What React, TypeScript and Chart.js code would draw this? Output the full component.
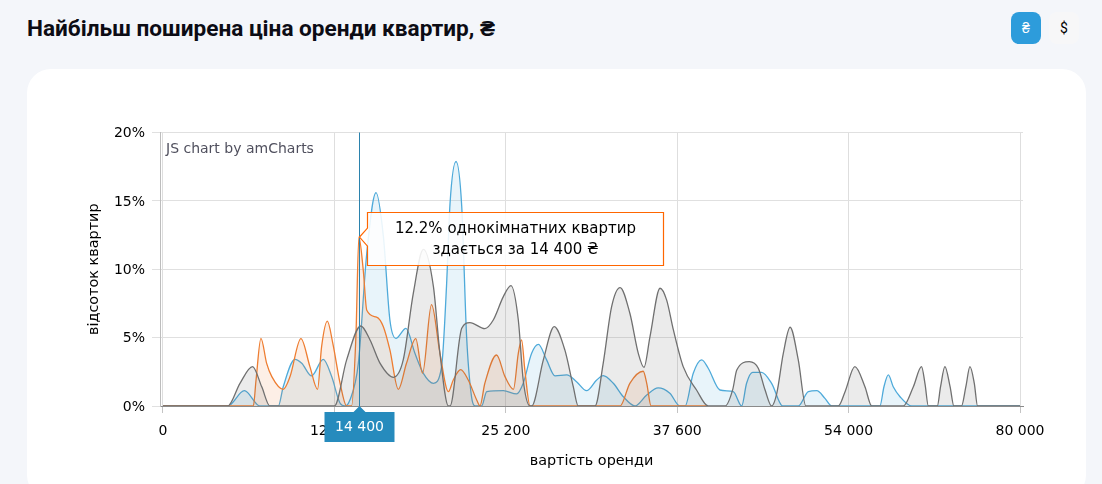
import { useEffect, useRef } from "react";
import { Chart, registerables } from "chart.js";

Chart.register(...registerables);

// x is the rank of the price on the amCharts category axis, y is percent of flats
const tickRanks = [0, 63, 126, 189, 252, 315];
const tickLabels = ["0", "12 600", "25 200", "37 600", "54 000", "80 000"];

const orangeRanks = [0, 33.2, 34.2, 36, 38.1, 40, 44.2, 46.7, 50.7, 54, 56.8, 58.3, 60.4, 62.4, 65.1, 67.5, 69.3, 70.9, 72, 73.6, 74.9, 78.5, 81, 83.4, 86.5, 89.5, 92.9, 95.4, 98.7, 101.8, 104.9, 106.7, 109.4, 112.2, 115.3, 116.5, 118.3, 122.6, 125.7, 128.8, 130.6, 131.8, 133, 134.9, 168, 171.6, 176.5, 177.8, 179.4, 200];
const orangeValues = [0, 0, 1.9, 4.95, 3.12, 2.15, 1.22, 2.15, 4.93, 2.88, 1.22, 4.34, 6.2, 4.6, 1.66, 0, 0, 5.07, 12.35, 9.95, 7, 6.5, 5.8, 4.1, 1.22, 3.12, 4.93, 2.4, 7.41, 3.85, 1.05, 1.9, 2.66, 1.9, 0.44, 0, 1.66, 3.73, 2.15, 1.22, 3.85, 4.83, 2.63, 0, 0, 1.66, 2.54, 1.66, 0, 0];

const blueRanks = [0, 23.8, 29.9, 35.65, 42.4, 44.2, 48.5, 51, 54.6, 58.9, 62, 65.1, 66.9, 68.7, 71.8, 74.9, 78.3, 81, 83.4, 85.6, 89.3, 92.6, 95.7, 99.4, 102.4, 104.2, 105.5, 107.7, 109.8, 111.6, 113.4, 114.7, 117.1, 119, 125.1, 130, 132.4, 135.5, 138, 141, 144.1, 148.4, 152, 155.7, 159.4, 161.8, 165.5, 169.2, 173.5, 177.8, 182, 186.3, 190, 191.9, 194.9, 198, 200.4, 204.7, 209.6, 212.7, 214.5, 216.7, 220, 223.7, 227.8, 233.5, 237.2, 240.3, 243.3, 245.8, 263.5, 265, 266.6, 268.4, 270.9, 275.2, 315];
const blueValues = [0, 0, 1.12, 0, 0, 1.41, 3.41, 3.12, 2.2, 3.41, 2.15, 0.2, 0, 0.44, 3.12, 11.17, 15.6, 12.4, 6.29, 4.95, 5.68, 3.85, 2.39, 1.66, 2.88, 8.73, 14.8, 17.88, 14.6, 5.07, 0.68, 0, 0, 1.05, 1.12, 0.88, 1.66, 3.85, 4.5, 3.37, 2.2, 2.27, 1.78, 1.12, 1.9, 2.22, 1.66, 0.68, 0, 0.8, 1.32, 0.93, 0, 0, 2.39, 3.37, 2.76, 1.17, 1.05, 0, 1.66, 2.46, 2.46, 1.66, 0, 0, 1.05, 1.12, 0.56, 0, 0, 1.41, 2.27, 1.41, 0.68, 0, 0];

const greyRanks = [0, 23.8, 28.3, 32.9, 36.3, 39.3, 63, 67.5, 72.7, 76.1, 79.8, 84.7, 88.3, 92, 95.7, 99.4, 101.8, 104.9, 105.5, 109.8, 112.8, 118.3, 121.4, 125.1, 127.9, 130.6, 132.4, 134.9, 135.5, 139.8, 143.8, 147.7, 150.8, 152.6, 158.8, 161.8, 164.9, 168, 171.6, 174.7, 176.8, 179, 182.7, 185.1, 187.6, 191.2, 196.1, 200.4, 206.6, 209.4, 210.9, 215.5, 218.8, 221.3, 223.7, 225.6, 228, 230.5, 233.5, 236.3, 248.2, 250.7, 254.3, 258, 260.5, 272.1, 275.8, 278.8, 280.1, 281.3, 284.6, 285.8, 287.4, 289.3, 290.7, 293.5, 295.1, 296.6, 298.2, 299.4, 315];
const greyValues = [0, 0, 1.66, 2.88, 1.4, 0, 0, 3.37, 5.85, 4.83, 3.12, 2.1, 3.37, 8.24, 11.46, 8.73, 3.85, 0, 0, 5.68, 6.1, 5.66, 6.29, 8, 8.8, 6.29, 1.9, 0, 0, 3.37, 5.8, 4.1, 1.41, 0, 0, 3.12, 7.27, 8.66, 6.78, 3.85, 2.83, 5.07, 8.61, 7.76, 5.56, 2.88, 1.17, 0, 0, 1.2, 2.63, 3.24, 2.76, 1.17, 0, 0.93, 3.85, 5.76, 3.37, 0, 0, 1.05, 2.88, 1.41, 0, 0, 1.41, 2.88, 1.6, 0, 0, 1.41, 2.88, 1.41, 0, 0, 1.41, 2.88, 1.66, 0, 0];

const cursorRank = 72;
const cursorValue = 12.35;
const cursorLabel = "14 400";
const balloonLines = ["12.2% однокімнатних квартир", "здається за 14 400 ₴"];

const AXIS_FONT = "DejaVu Sans, Verdana, sans-serif";

const toPoints = (xs: number[], ys: number[]) => xs.map((x, i) => ({ x, y: ys[i] }));

// cursor, balloon and the amCharts credit are not something Chart.js has, so draw them here
const overlayPlugin = {
  id: "overlay",
  afterDraw(chart: any) {
    const { ctx, chartArea, scales } = chart;
    const cx = Math.ceil(scales.x.getPixelForValue(cursorRank)) + 0.5;
    const py = scales.y.getPixelForValue(cursorValue);
    const bottom = chartArea.bottom;

    ctx.save();
    ctx.fillStyle = "#50505e";
    ctx.font = `14px ${AXIS_FONT}`;
    ctx.textAlign = "left";
    ctx.textBaseline = "middle";
    ctx.fillText("JS chart by amCharts", chartArea.left + 6, chartArea.top + 16.5);

    // vertical cursor
    ctx.strokeStyle = "#2b82ad";
    ctx.lineWidth = 1;
    ctx.beginPath();
    ctx.moveTo(cx, chartArea.top);
    ctx.lineTo(cx, bottom);
    ctx.stroke();

    // label under the cursor
    ctx.fillStyle = "#268bbd";
    ctx.beginPath();
    ctx.moveTo(cx, bottom);
    ctx.lineTo(cx + 6, bottom + 6);
    ctx.lineTo(cx + 35, bottom + 6);
    ctx.lineTo(cx + 35, bottom + 36);
    ctx.lineTo(cx - 35, bottom + 36);
    ctx.lineTo(cx - 35, bottom + 6);
    ctx.lineTo(cx - 6, bottom + 6);
    ctx.closePath();
    ctx.fill();
    ctx.fillStyle = "#fff";
    ctx.textAlign = "center";
    ctx.fillText(cursorLabel, cx, bottom + 21);

    // balloon
    const left = cx + 8;
    const top = Math.floor(py - 24.5) + 0.5;
    const w = 296;
    const h = 53;
    ctx.beginPath();
    ctx.moveTo(left, top);
    ctx.lineTo(left + w, top);
    ctx.lineTo(left + w, top + h);
    ctx.lineTo(left, top + h);
    ctx.lineTo(left, py + 9);
    ctx.lineTo(cx, py);
    ctx.lineTo(left, py - 9);
    ctx.closePath();
    ctx.fillStyle = "rgba(255,255,255,0.88)";
    ctx.fill();
    ctx.strokeStyle = "#ff6600";
    ctx.lineWidth = 1.2;
    ctx.stroke();
    ctx.fillStyle = "#000";
    ctx.font = `15px ${AXIS_FONT}`;
    ctx.fillText(balloonLines[0], left + w / 2, top + 17);
    ctx.fillText(balloonLines[1], left + w / 2, top + 38);
    ctx.restore();
  },
};

function RentChart() {
  const canvasRef = useRef<HTMLCanvasElement>(null);

  useEffect(() => {
    if (!canvasRef.current) return;

    const chart = new Chart(canvasRef.current, {
      type: "line",
      data: {
        datasets: [
          {
            label: "grey",
            data: toPoints(greyRanks, greyValues),
            borderColor: "#707070",
            backgroundColor: "rgba(102,102,102,0.13)",
          },
          {
            label: "однокімнатні",
            data: toPoints(orangeRanks, orangeValues),
            borderColor: "#ee7d31",
            backgroundColor: "rgba(238,125,49,0.12)",
          },
          {
            label: "blue",
            data: toPoints(blueRanks, blueValues),
            borderColor: "#4eaada",
            backgroundColor: "rgba(78,170,218,0.13)",
          },
        ],
      },
      options: {
        responsive: false,
        animation: false,
        layout: { padding: { top: 63.5, right: 63 } },
        elements: {
          point: { radius: 0 },
          line: { borderWidth: 1.3, fill: "origin", cubicInterpolationMode: "monotone" },
        },
        plugins: {
          legend: { display: false },
          tooltip: { enabled: false },
        },
        scales: {
          x: {
            type: "linear",
            min: -1.1,
            max: 316.1,
            afterBuildTicks: (axis: any) => {
              axis.ticks = tickRanks.map((value) => ({ value }));
            },
            afterFit: (axis: any) => {
              axis.height = 78;
            },
            grid: { color: "#dedede", tickLength: 7, tickColor: "#c4c4c4" },
            border: { color: "#8a8a8a" },
            ticks: {
              autoSkip: false,
              maxRotation: 0,
              padding: 10,
              color: "#000",
              font: { family: AXIS_FONT, size: 14 },
              callback: (value: any) => tickLabels[tickRanks.indexOf(value)],
            },
            title: {
              display: true,
              text: "вартість оренди",
              color: "#000",
              font: { family: AXIS_FONT, size: 14.4 },
              padding: { top: 0, bottom: 14 },
            },
          },
          y: {
            min: 0,
            max: 20,
            afterFit: (axis: any) => {
              axis.width = 133;
            },
            grid: { color: "#e0e0e0", tickLength: 8 },
            border: { color: "#bdbdbd" },
            ticks: {
              stepSize: 5,
              padding: 7,
              labelOffset: 1,
              color: "#000",
              font: { family: AXIS_FONT, size: 14 },
              callback: (value: any) => `${value}%`,
            },
            title: {
              display: true,
              text: "відсоток квартир",
              color: "#000",
              font: { family: AXIS_FONT, size: 14.4 },
              padding: { top: 59, bottom: 0 },
            },
          },
        },
      },
      plugins: [overlayPlugin],
    } as any);

    return () => chart.destroy();
  }, []);

  return <canvas ref={canvasRef} width={1059} height={415} style={{ display: "block" }} />;
}

export default function App() {
  return (
    <div style={{ position: "relative", width: 1102, height: 484, overflow: "hidden", background: "#f4f6fa", fontFamily: "Roboto, sans-serif" }}>
      <style>{"body { margin: 0; }"}</style>
      <div style={{ position: "absolute", left: 27, top: 14, fontSize: 22.6, lineHeight: "30px", fontWeight: 700, color: "#0c0c14" }}>
        Найбільш поширена ціна оренди квартир, ₴
      </div>
      <div style={{ position: "absolute", left: 1011, top: 12, width: 30, height: 32, borderRadius: 8, background: "#2d9cdb", color: "#fff", fontSize: 14, lineHeight: "32px", textAlign: "center" }}>₴</div>
      <div style={{ position: "absolute", left: 1049, top: 12, width: 30, height: 32, borderRadius: 8, background: "#f7f7f8", color: "#000", fontSize: 14, lineHeight: "32px", textAlign: "center" }}>$</div>
      <div style={{ position: "absolute", left: 27, top: 69, width: 1059, height: 430, borderRadius: 24, background: "#fff" }}>
        <RentChart />
      </div>
    </div>
  );
}
